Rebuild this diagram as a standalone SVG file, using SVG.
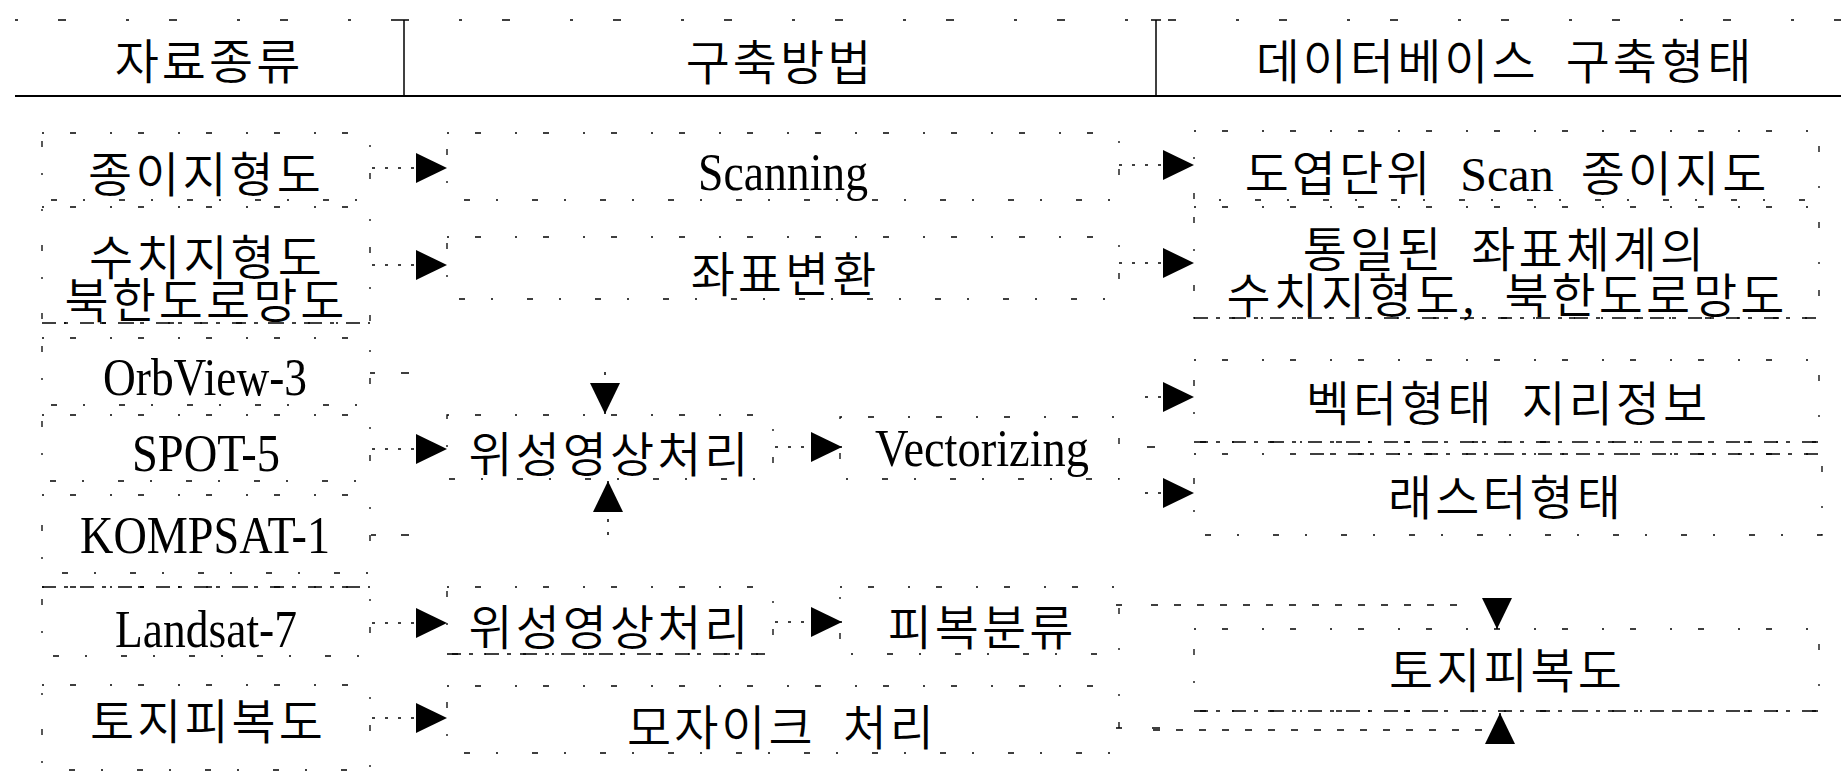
<svg xmlns="http://www.w3.org/2000/svg" width="1841" height="774" viewBox="0 0 1841 774">
<style>
.t{font-family:"Liberation Serif","Noto Sans CJK KR",serif;font-size:48px;font-weight:350;letter-spacing:3px;word-spacing:12px;text-anchor:middle;fill:#000}
.l{font-family:"Liberation Serif",serif;font-size:52px;text-anchor:middle;fill:#000}
.lat{letter-spacing:0;font-weight:400}
.bx{fill:none;stroke:#000;stroke-width:1.3;stroke-dasharray:2 26 6 34}
.bd{fill:none;stroke:#000;stroke-width:1.5;stroke-dasharray:14 8 4 12}
.rule{stroke:#000;stroke-width:2;fill:none}
.top{stroke:#000;stroke-width:1.5;fill:none;stroke-dasharray:3 40 8 60}
.sep{stroke:#000;stroke-width:1.5;fill:none}
.c{fill:none;stroke:#000;stroke-width:1.5;stroke-dasharray:3 10;marker-end:url(#ah)}
.d{fill:none;stroke:#000;stroke-width:1.5;stroke-dasharray:7 16}
.tick{fill:none;stroke:#000;stroke-width:1.5}
</style>
<defs>
<marker id="ah" viewBox="0 0 31 30" refX="31" refY="15" markerWidth="31" markerHeight="30" markerUnits="userSpaceOnUse" orient="auto">
<path d="M0,0 L31,15 L0,30 Z" fill="#000"/>
</marker>
</defs>
<rect width="1841" height="774" fill="#fff"/>

<g id="header">
<line class="top" x1="15" y1="20" x2="1841" y2="20"/>
<line class="rule" x1="15" y1="96" x2="1841" y2="96"/>
<line class="sep" x1="404" y1="20" x2="404" y2="96"/>
<line class="sep" x1="399" y1="20" x2="409" y2="20"/>
<line class="sep" x1="1156" y1="20" x2="1156" y2="96"/>
<line class="sep" x1="1151" y1="20" x2="1161" y2="20"/>
<text class="t" x="209" y="79">자료종류</text>
<text class="t" x="780" y="80">구축방법</text>
<text class="t" x="1505" y="79">데이터베이스 구축형태</text>
</g>

<g id="src-paper"><rect class="bx" x="42" y="133" width="328" height="67"/><text class="t" x="206" y="192">종이지형도</text></g>
<g id="src-digital"><rect class="bx" x="42" y="207" width="328" height="116"/><line class="bd" x1="42" y1="323" x2="370" y2="323"/><text class="t" x="207" y="275">수치지형도</text><text class="t" x="206" y="318">북한도로망도</text></g>
<g id="src-orbview"><rect class="bx" x="42" y="338" width="328" height="67"/><text class="l" x="205" y="395" textLength="204" lengthAdjust="spacingAndGlyphs">OrbView-3</text></g>
<g id="src-spot"><rect class="bx" x="42" y="415" width="328" height="66"/><text class="l" x="206" y="471" textLength="148" lengthAdjust="spacingAndGlyphs">SPOT-5</text></g>
<g id="src-kompsat"><rect class="bx" x="42" y="495" width="328" height="78"/><text class="l" x="205" y="553" textLength="250" lengthAdjust="spacingAndGlyphs">KOMPSAT-1</text></g>
<g id="src-landsat"><rect class="bx" x="42" y="587" width="328" height="69"/><line class="bd" x1="42" y1="587" x2="370" y2="587"/><text class="l" x="206" y="647" textLength="182" lengthAdjust="spacingAndGlyphs">Landsat-7</text></g>
<g id="src-landcover"><rect class="bx" x="42" y="685" width="328" height="85"/><text class="t" x="208" y="739">토지피복도</text></g>

<g id="m-scanning"><rect class="bx" x="447" y="133" width="672" height="67"/><text class="l" x="783" y="190" textLength="170" lengthAdjust="spacingAndGlyphs">Scanning</text></g>
<g id="m-transform"><rect class="bx" x="447" y="237" width="672" height="62"/><text class="t" x="785" y="292">좌표변환</text></g>
<g id="m-sat1"><rect class="bx" x="447" y="415" width="326" height="64"/><text class="t" x="610" y="472">위성영상처리</text></g>
<g id="m-vector"><rect class="bx" x="840" y="417" width="279" height="62"/><text class="l" x="982" y="466" textLength="214" lengthAdjust="spacingAndGlyphs">Vectorizing</text></g>
<g id="m-sat2"><rect class="bx" x="447" y="587" width="326" height="67"/><line class="bd" x1="447" y1="654" x2="773" y2="654"/><text class="t" x="610" y="645">위성영상처리</text></g>
<g id="m-classify"><rect class="bx" x="840" y="587" width="279" height="67"/><text class="t" x="982" y="645">피복분류</text></g>
<g id="m-mosaic"><rect class="bx" x="447" y="686" width="672" height="67"/><text class="t" x="782" y="745">모자이크 처리</text></g>

<g id="db-scan"><rect class="bx" x="1194" y="131" width="625" height="69"/><text class="t" x="1507" y="191">도엽단위 <tspan class="lat">Scan</tspan> 종이지도</text></g>
<g id="db-digital"><rect class="bx" x="1194" y="207" width="625" height="111"/><line class="bd" x1="1194" y1="318" x2="1819" y2="318"/><text class="t" x="1505" y="267">통일된 좌표체계의</text><text class="t" x="1507" y="313">수치지형도, 북한도로망도</text></g>
<g id="db-vector"><rect class="bx" x="1194" y="360" width="625" height="82"/><line class="bd" x1="1194" y1="442" x2="1819" y2="442"/><text class="t" x="1508" y="421">벡터형태 지리정보</text></g>
<g id="db-raster"><rect class="bx" x="1194" y="454" width="628" height="81"/><line class="bd" x1="1310" y1="454" x2="1822" y2="454"/><text class="t" x="1506" y="515">래스터형태</text></g>
<g id="db-landcover"><rect class="bx" x="1194" y="629" width="625" height="82"/><line class="bd" x1="1194" y1="711" x2="1819" y2="711"/><text class="t" x="1507" y="688">토지피복도</text></g>

<g id="connectors">
<path class="c" d="M372,168 H447"/>
<path class="c" d="M372,265 H447"/>
<path class="c" d="M372,449 H447"/>
<path class="c" d="M372,623 H447"/>
<path class="c" d="M372,718 H447"/>
<path class="tick" d="M370,373 h5 M401,373 h8 M371,535 h5 M401,535 h8"/>
<path class="c" d="M775,447 H842"/>
<path class="c" d="M775,622 H842"/>
<path class="c" d="M605,372 V414"/>
<path class="c" d="M608,535 V481"/>
<path class="c" d="M1119,165 H1194"/>
<path class="c" d="M1119,263 H1194"/>
<path class="c" d="M1145,397 H1194"/>
<path class="c" d="M1145,493 H1194"/>
<path class="tick" d="M1147,447 h8 M1116,605 h6 M1116,728 h6 M1152,728 h8"/>
<path class="d" d="M1151,605 H1462"/>
<path class="c" d="M1497,600 V629"/>
<path class="d" d="M1153,730 H1489"/>
<path class="c" d="M1500,742 V713"/>
</g>
</svg>
